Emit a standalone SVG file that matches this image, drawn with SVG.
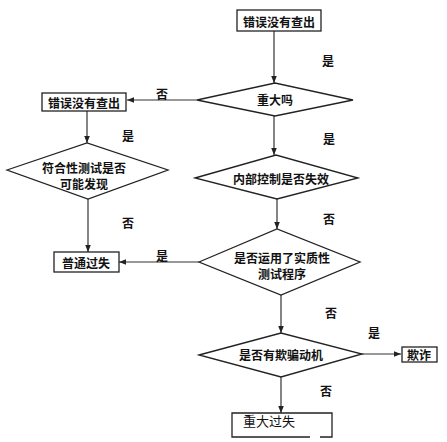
<svg xmlns="http://www.w3.org/2000/svg" width="447" height="442" viewBox="0 0 447 442">
<style>
.n{fill:#fff;stroke:#222;stroke-width:1.3}
.t{font-family:"Noto Sans CJK SC","Noto Sans CJK JP",sans-serif;font-size:12px;font-weight:bold;fill:#111;text-anchor:middle;dominant-baseline:central}
.l{font-family:"Noto Sans CJK SC","Noto Sans CJK JP",sans-serif;font-size:12px;font-weight:bold;fill:#111;text-anchor:middle;dominant-baseline:central}
.c{stroke:#333;stroke-width:1.2;fill:none;marker-end:url(#a)}
</style>
<defs>
<marker id="a" viewBox="0 0 10 10" refX="10" refY="5" markerWidth="7" markerHeight="7" markerUnits="userSpaceOnUse" orient="auto">
<path d="M0,1 L10,5 L0,9 z" fill="#222"/>
</marker>
</defs>
<rect width="447" height="442" fill="#fff"/>
<g id="connectors">
<line class="c" x1="274" y1="31" x2="274" y2="83"/>
<line class="c" x1="197" y1="100" x2="127" y2="100"/>
<line class="c" x1="87" y1="111" x2="87" y2="143"/>
<line class="c" x1="88" y1="199" x2="88" y2="252"/>
<line class="c" x1="274" y1="116" x2="274" y2="155"/>
<line class="c" x1="277" y1="199" x2="277" y2="229"/>
<line class="c" x1="199" y1="262" x2="119" y2="262"/>
<line class="c" x1="281" y1="295" x2="281" y2="333"/>
<line class="c" x1="362" y1="354" x2="401" y2="354"/>
<line class="c" x1="281" y1="377" x2="281" y2="413"/>
</g>
<g id="labels">
<text class="l" x="328" y="60">是</text>
<text class="l" x="162" y="93">否</text>
<text class="l" x="128" y="135">是</text>
<text class="l" x="329" y="138">是</text>
<text class="l" x="128" y="222">否</text>
<text class="l" x="329" y="218">否</text>
<text class="l" x="162" y="255">是</text>
<text class="l" x="331" y="312">否</text>
<text class="l" x="374" y="332">是</text>
<text class="l" x="326" y="390">否</text>
</g>
<g id="n1"><rect class="n" x="237" y="10" width="84" height="21"/><text class="t" x="279" y="21">错误没有查出</text></g>
<g id="n2"><polygon class="n" points="197,100 275,83 353,100 275,116"/><text class="t" x="275" y="99">重大吗</text></g>
<g id="n3"><rect class="n" x="42" y="93" width="84" height="18"/><text class="t" x="84" y="102">错误没有查出</text></g>
<g id="n4"><polygon class="n" points="7,170 87,143 168,170 88,199"/><text class="t" x="84" y="167">符合性测试是否</text><text class="t" x="84" y="183">可能发现</text></g>
<g id="n5"><polygon class="n" points="195,178 276,155 358,178 277,199"/><text class="t" x="281" y="178">内部控制是否失效</text></g>
<g id="n6"><rect class="n" x="54" y="252" width="65" height="20"/><text class="t" x="86" y="262">普通过失</text></g>
<g id="n7"><polygon class="n" points="199,262 277,229 360,262 281,295"/><text class="t" x="282" y="257">是否运用了实质性</text><text class="t" x="282" y="273">测试程序</text></g>
<g id="n8"><polygon class="n" points="199,355 281,333 362,354 281,377"/><text class="t" x="281" y="354">是否有欺骗动机</text></g>
<g id="n9"><rect class="n" x="402" y="347" width="35" height="15"/><text class="t" x="419" y="354">欺诈</text></g>
<g id="n10"><path d="M310,437 L232,437 L232,413 L332,413 L332,437 L320,437" fill="#fff" stroke="#222" stroke-width="1.3"/><text x="243" y="420" font-family="Noto Sans CJK SC,sans-serif" font-size="13" fill="#111" dominant-baseline="central">重大过失</text></g>
</svg>
